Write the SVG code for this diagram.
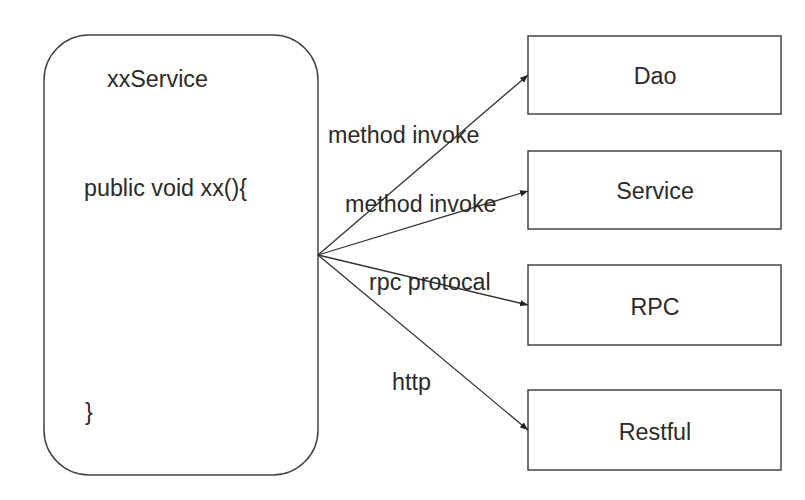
<svg xmlns="http://www.w3.org/2000/svg" width="805" height="500" viewBox="0 0 805 500">
<style>
.box{fill:#fff;stroke:#444;stroke-width:1.5}
.t{font-family:"Liberation Sans",Arial,sans-serif;font-size:23.3px;fill:#2a2a2a}
.c{text-anchor:middle}
.e{stroke:#333;stroke-width:1.3;fill:none}
</style>
<defs>
<marker id="ah" viewBox="0 0 10 10" refX="10" refY="5" markerWidth="8" markerHeight="8" markerUnits="userSpaceOnUse" orient="auto">
<path d="M0,1 L10,5 L0,9 z" fill="#222"/>
</marker>
</defs>
<rect width="805" height="500" fill="#fff"/>
<g id="xxService">
<rect class="box" x="44" y="35" width="274" height="440" rx="45" ry="45"/>
<text class="t" x="107" y="87">xxService</text>
<text class="t" x="84" y="196">public void xx(){</text>
<text class="t" x="85" y="420">}</text>
</g>
<g id="dao">
<rect class="box" x="528" y="36" width="253" height="78"/>
<text class="t c" x="655" y="84">Dao</text>
</g>
<g id="service">
<rect class="box" x="528" y="151" width="253" height="78"/>
<text class="t c" x="655" y="199">Service</text>
</g>
<g id="rpc">
<rect class="box" x="528" y="265" width="253" height="80"/>
<text class="t c" x="655" y="315">RPC</text>
</g>
<g id="restful">
<rect class="box" x="528" y="390" width="253" height="80"/>
<text class="t c" x="655" y="440">Restful</text>
</g>
<g id="connectors">
<line class="e" x1="318" y1="255" x2="528" y2="75" marker-end="url(#ah)"/>
<line class="e" x1="318" y1="255" x2="528" y2="191" marker-end="url(#ah)"/>
<line class="e" x1="318" y1="255" x2="528" y2="305" marker-end="url(#ah)"/>
<line class="e" x1="318" y1="255" x2="528" y2="430" marker-end="url(#ah)"/>
<text class="t" x="328" y="143">method invoke</text>
<text class="t" x="345" y="212">method invoke</text>
<text class="t" x="369" y="290">rpc protocal</text>
<text class="t" x="392" y="390">http</text>
</g>
</svg>
